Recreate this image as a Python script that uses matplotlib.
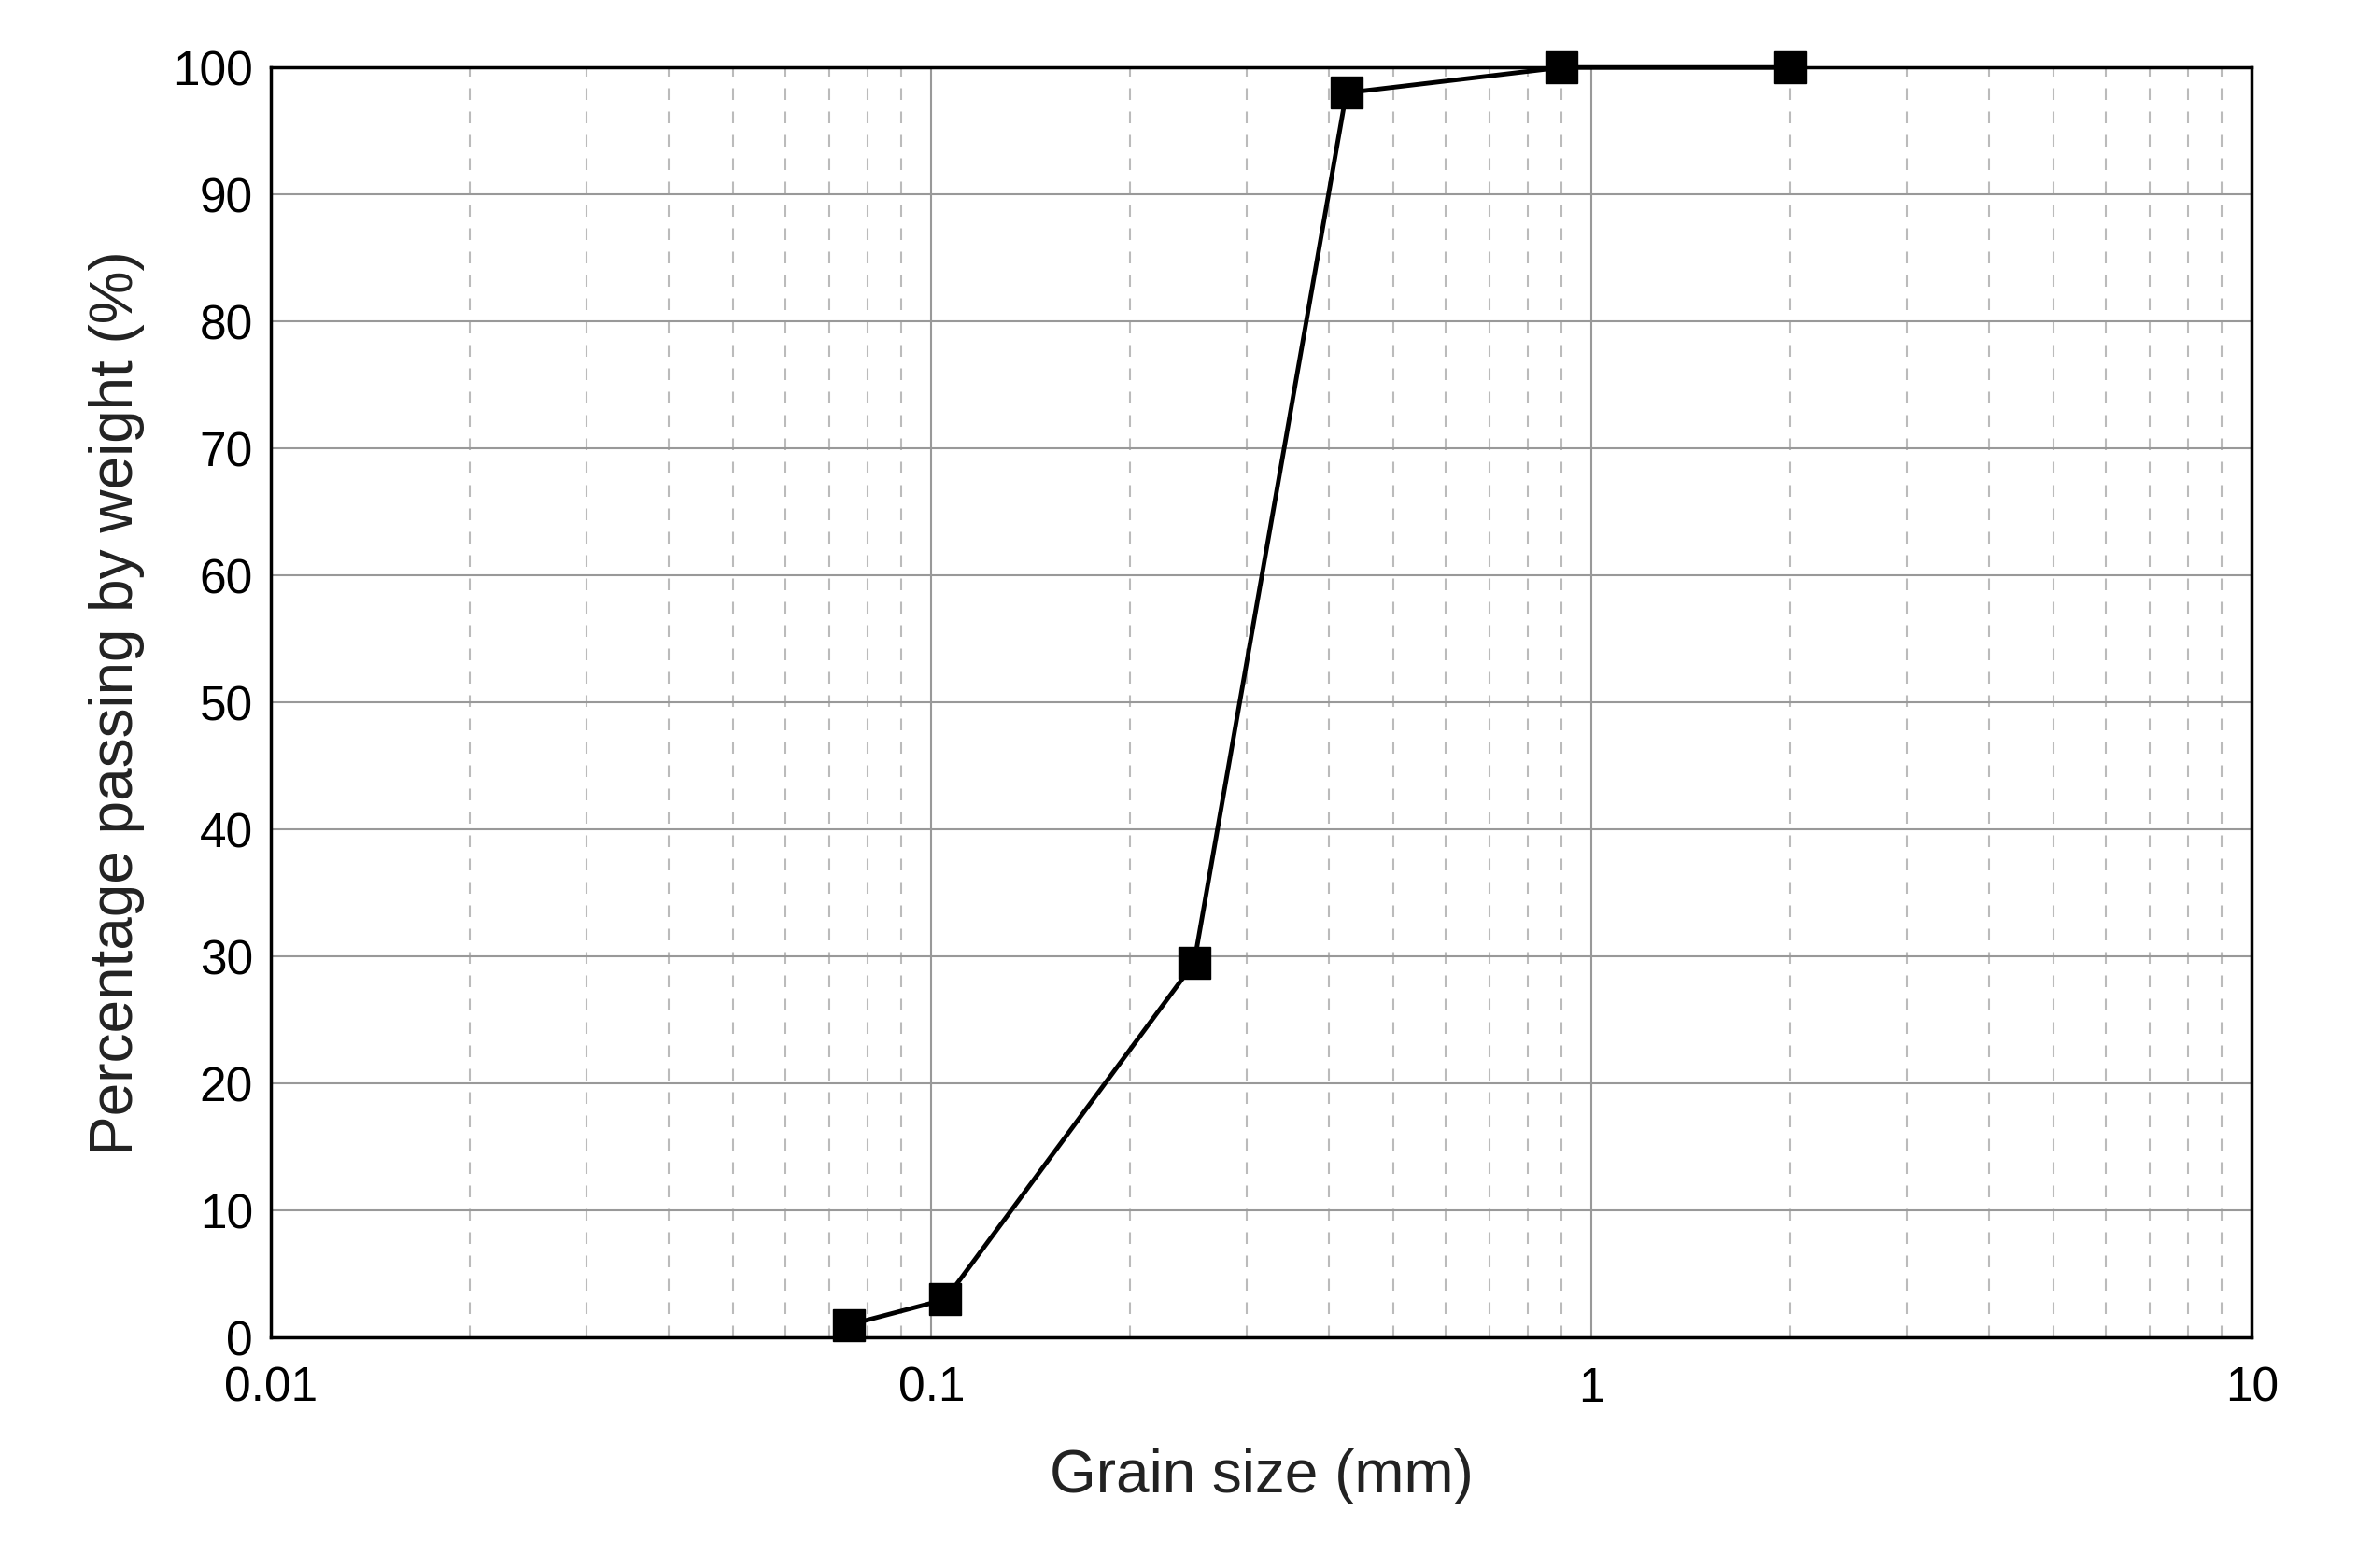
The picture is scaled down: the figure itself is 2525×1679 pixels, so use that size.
import numpy as np
import matplotlib.pyplot as plt
from matplotlib.ticker import LogLocator, FixedLocator

plt.rcParams['font.family'] = ['Liberation Sans', 'DejaVu Sans']

# grain size distribution
grain_size = [0.075, 0.105, 0.25, 0.425, 0.9, 2.0]
passing = [1, 3, 29.5, 98, 100, 100]

fig = plt.figure(figsize=(25.25, 16.79), dpi=100)
ax = fig.add_axes([0.115, 0.147, 0.84, 0.81])

ax.plot(grain_size, passing, color='black', lw=3.5, marker='s', ms=24, zorder=3, clip_on=False)

ax.set_xscale('log')
ax.set_xlim(0.01, 10)
ax.set_ylim(0, 100)
ax.set_yticks(np.arange(0, 101, 10))
ax.xaxis.set_major_locator(FixedLocator([0.01, 0.1, 1, 10]))
ax.xaxis.set_minor_locator(LogLocator(base=10, subs=np.arange(2, 10)))
ax.set_xticklabels(['0.01', '0.1', '1', '10'])

ax.grid(True, which='major', axis='both', color='#999999', lw=1.5)
ax.grid(True, which='minor', axis='x', color='#bbbbbb', lw=1.5, ls=(0, (6, 6)))
ax.tick_params(which='both', length=0, labelsize=37, color='#222222')
ax.tick_params(axis='x', pad=22)
ax.tick_params(axis='y', pad=14)
for s in ax.spines.values():
    s.set_linewidth(2.5)

ax.set_xlabel('Grain size (mm)', fontsize=46, labelpad=28, color='#222222')
ax.set_ylabel('Percentage passing by weight (%)', fontsize=46, labelpad=22, color='#222222')

plt.savefig('out.png', dpi=100)
plt.close()
